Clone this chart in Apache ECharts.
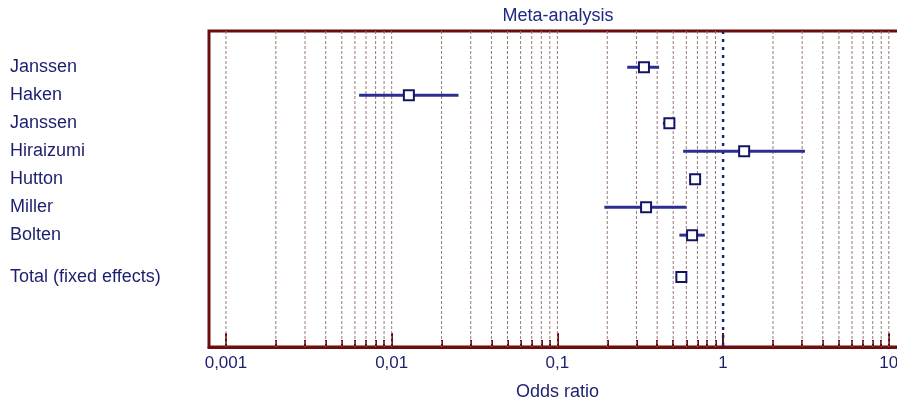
<!DOCTYPE html>
<html>
<head>
<meta charset="utf-8">
<script src="https://cdn.jsdelivr.net/npm/echarts@6/dist/echarts.min.js"></script>
<style>
html,body{margin:0;padding:0;background:#fff;}
#chart{width:897px;height:405px;}
</style>
</head>
<body>
<div id="chart"></div>
<script>
// ---- data ----
const studies = ['Janssen', 'Haken', 'Janssen', 'Hiraizumi', 'Hutton', 'Miller', 'Bolten'];
const estimates = [0.333, 0.0127, 0.474, 1.34, 0.678, 0.343, 0.650];
const lowerCI   = [0.264, 0.00636, 0.433, 0.574, 0.64, 0.192, 0.545];
const upperCI   = [0.411, 0.0253, 0.511, 3.12, 0.72, 0.601, 0.776];
const totalLabel = 'Total (fixed effects)';
const totalEstimate = 0.560;
const totalLower = 0.53;
const totalUpper = 0.59;
const decadeTicks = [0.001, 0.01, 0.1, 1, 10];
const decadeLabels = ['0,001', '0,01', '0,1', '1', '10'];
const nullValue = 1;

// ---- build ----
const rowNames = studies.concat([totalLabel]);
const rowPos = studies.map((_, i) => i).concat([studies.length + 0.5]);
const est = estimates.concat([totalEstimate]);
const lo = lowerCI.concat([totalLower]);
const hi = upperCI.concat([totalUpper]);
const seriesData = rowPos.map((p, i) => [est[i], p, lo[i], hi[i]]);

const minorTicks = [];
decadeTicks.forEach(d => {
  for (let m = 1; m <= 9; m++) {
    const v = +(d * m).toPrecision(6);
    if (v <= 12.7) minorTicks.push(v);
  }
});

const frameColor = '#6b0d0d';
const gridLineColor = '#9a7777';
const navy = '#1c1f6e';
const ciColor = '#2b3090';
const font = 'Arial, "Liberation Sans", sans-serif';

const chart = echarts.init(document.getElementById('chart'), null, {renderer: 'canvas'});

const xBase = {
  type: 'log', logBase: 10, min: 0.00079, max: 12.7,
  splitLine: {show: false}, minorTick: {show: false}
};

function vLine(color, dash, width) {
  return function (params, api) {
    const cs = params.coordSys;
    const p = api.coord([api.value(0), 0]);
    return {
      type: 'line',
      shape: {x1: p[0], y1: cs.y, x2: p[0], y2: cs.y + cs.height},
      style: {stroke: color, lineWidth: width, lineDash: dash}
    };
  };
}

chart.setOption({
  animation: false,
  backgroundColor: '#fff',
  title: {
    text: 'Meta-analysis', left: 553, top: 2, textAlign: 'center',
    textStyle: {color: '#1e2a80', fontSize: 18, fontWeight: 'normal', fontFamily: font}
  },
  grid: {
    left: 209, top: 31, bottom: 58, right: -9,
    outerBoundsMode: 'none', containLabel: false,
    show: true, borderColor: frameColor, borderWidth: 3, backgroundColor: 'transparent'
  },
  xAxis: [
    Object.assign({}, xBase, {
      position: 'bottom',
      name: 'Odds ratio', nameLocation: 'middle', nameGap: 36,
      nameTextStyle: {color: navy, fontSize: 18, fontFamily: font},
      axisLine: {show: true, onZero: false, lineStyle: {color: frameColor, width: 3}},
      axisTick: {show: true, inside: true, length: 7, customValues: minorTicks,
                 lineStyle: {color: frameColor, width: 2}},
      axisLabel: {show: true, customValues: decadeTicks, margin: 8, hideOverlap: false,
                  color: navy, fontSize: 17, fontFamily: font,
                  formatter: v => {
                    const i = decadeTicks.findIndex(d => Math.abs(Math.log10(d) - Math.log10(v)) < 1e-6);
                    return i >= 0 ? decadeLabels[i] : '';
                  }}
    }),
    Object.assign({}, xBase, {
      position: 'bottom', gridIndex: 0,
      axisLine: {show: false, onZero: false},
      axisTick: {show: true, inside: true, length: 14, customValues: decadeTicks,
                 lineStyle: {color: frameColor, width: 2}},
      axisLabel: {show: false}
    })
  ],
  yAxis: {
    type: 'value', inverse: true, min: -1.3, max: 10,
    splitLine: {show: false}, axisLine: {show: false, onZero: false}, axisTick: {show: false},
    axisLabel: {
      show: true, customValues: rowPos, align: 'left', margin: 199,
      padding: [3, 0, 0, 0],
      color: navy, fontSize: 18, fontFamily: font,
      formatter: v => {
        const i = rowPos.findIndex(p => Math.abs(p - v) < 1e-6);
        return i >= 0 ? rowNames[i] : '';
      }
    }
  },
  series: [
    {
      type: 'custom', z: 1, silent: true,
      encode: {x: 0, y: 1},
      data: minorTicks.filter(v => v !== nullValue).map(v => [v, 0]),
      renderItem: vLine(gridLineColor, [3, 2], 1)
    },
    {
      type: 'custom', z: 2, silent: true,
      encode: {x: 0, y: 1},
      data: [[nullValue, 0]],
      renderItem: vLine('#1a2280', [3, 5], 2.5)
    },
    {
      type: 'custom', z: 5,
      encode: {x: [0, 2, 3], y: 1},
      data: seriesData,
      renderItem: function (params, api) {
        const y = api.value(1);
        const c = api.coord([api.value(0), y]);
        const l = api.coord([api.value(2), y]);
        const h = api.coord([api.value(3), y]);
        const s = 10;
        return {
          type: 'group',
          children: [
            {type: 'line', shape: {x1: l[0], y1: l[1], x2: h[0], y2: h[1]},
             style: {stroke: ciColor, lineWidth: 3}},
            {type: 'rect', shape: {x: c[0] - s / 2, y: c[1] - s / 2, width: s, height: s},
             style: {fill: '#fff', stroke: '#141466', lineWidth: 2}}
          ]
        };
      }
    }
  ]
});
</script>
</body>
</html>
